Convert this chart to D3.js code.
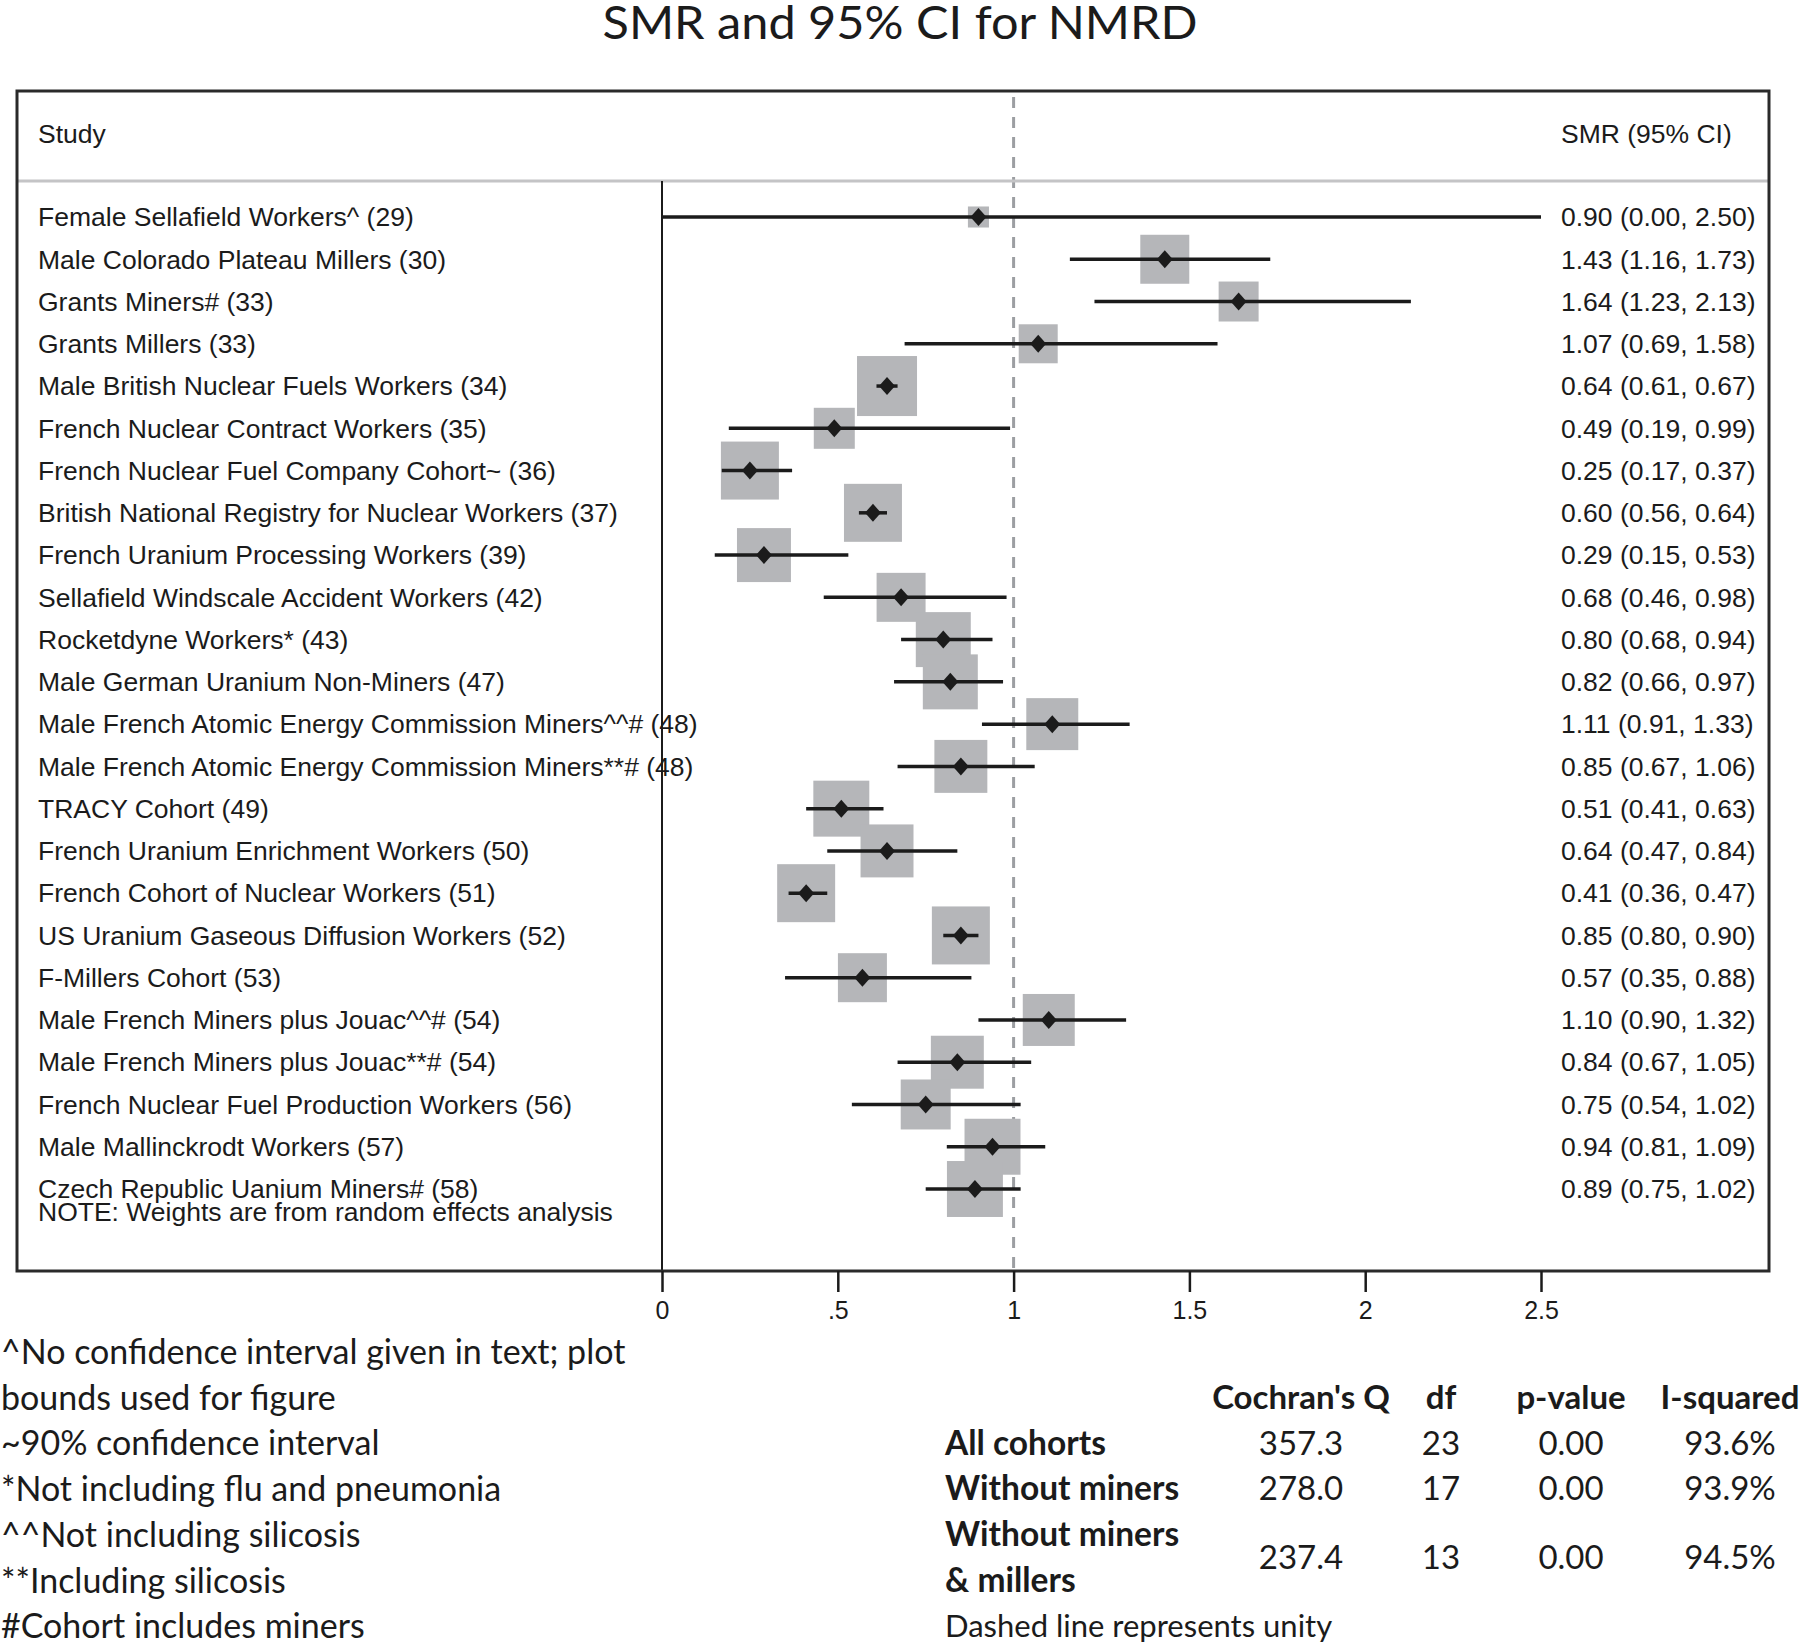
<!DOCTYPE html>
<html>
<head>
<meta charset="utf-8">
<script src="https://cdn.jsdelivr.net/npm/d3@7"></script>
<style>
  html, body { margin: 0; padding: 0; background: #fff; }
  svg { display: block; }
</style>
</head>
<body>
<div id="chart"></div>
<script>
// ---------------- DATA ----------------
const studies = [
  "Female Sellafield Workers^ (29)",
  "Male Colorado Plateau Millers (30)",
  "Grants Miners# (33)",
  "Grants Millers (33)",
  "Male British Nuclear Fuels Workers (34)",
  "French Nuclear Contract Workers (35)",
  "French Nuclear Fuel Company Cohort~ (36)",
  "British National Registry for Nuclear Workers (37)",
  "French Uranium Processing Workers (39)",
  "Sellafield Windscale Accident Workers (42)",
  "Rocketdyne Workers* (43)",
  "Male German Uranium Non-Miners (47)",
  "Male French Atomic Energy Commission Miners^^# (48)",
  "Male French Atomic Energy Commission Miners**# (48)",
  "TRACY Cohort (49)",
  "French Uranium Enrichment Workers (50)",
  "French Cohort of Nuclear Workers (51)",
  "US Uranium Gaseous Diffusion Workers (52)",
  "F-Millers Cohort (53)",
  "Male French Miners plus Jouac^^# (54)",
  "Male French Miners plus Jouac**# (54)",
  "French Nuclear Fuel Production Workers (56)",
  "Male Mallinckrodt Workers (57)",
  "Czech Republic Uanium Miners# (58)"
];
const smr    = [0.90, 1.43, 1.64, 1.07, 0.64, 0.49, 0.25, 0.60, 0.29, 0.68, 0.80, 0.82, 1.11, 0.85, 0.51, 0.64, 0.41, 0.85, 0.57, 1.10, 0.84, 0.75, 0.94, 0.89];
const ciLow  = [0.00, 1.16, 1.23, 0.69, 0.61, 0.19, 0.17, 0.56, 0.15, 0.46, 0.68, 0.66, 0.91, 0.67, 0.41, 0.47, 0.36, 0.80, 0.35, 0.90, 0.67, 0.54, 0.81, 0.75];
const ciHigh = [2.50, 1.73, 2.13, 1.58, 0.67, 0.99, 0.37, 0.64, 0.53, 0.98, 0.94, 0.97, 1.33, 1.06, 0.63, 0.84, 0.47, 0.90, 0.88, 1.32, 1.05, 1.02, 1.09, 1.02];
// random-effects weights (%)
const weights = [0.69, 3.74, 2.49, 2.37, 5.61, 2.62, 5.24, 5.24, 4.54, 3.74, 4.71, 4.71, 4.21, 4.37, 4.88, 4.37, 5.24, 5.24, 3.74, 4.21, 4.37, 3.89, 4.88, 4.88];

const tickValues = [0, 0.5, 1, 1.5, 2, 2.5];
const tickLabels = ["0", ".5", "1", "1.5", "2", "2.5"];

const footnotes = [
  "^No confidence interval given in text; plot",
  "bounds used for figure",
  "~90% confidence interval",
  "*Not including flu and pneumonia",
  "^^Not including silicosis",
  "**Including silicosis",
  "#Cohort includes miners"
];

const statHeaders = ["Cochran's Q", "df", "p-value", "I-squared"];
const statGroups  = [["All cohorts"], ["Without miners"], ["Without miners", "& millers"]];
const cochranQ    = ["357.3", "278.0", "237.4"];
const dfValues    = ["23", "17", "13"];
const pValues     = ["0.00", "0.00", "0.00"];
const iSquared    = ["93.6%", "93.9%", "94.5%"];

// ---------------- LAYOUT ----------------
const W = 1800, H = 1646;
const svg = d3.select("#chart").append("svg").attr("width", W).attr("height", H);

const box = { left: 17, right: 1769, top: 91, bottom: 1271, headerLine: 181 };
const x = d3.scaleLinear().domain([0, 2.5]).range([662, 1541]);
const y = d3.scaleLinear().domain([0, studies.length - 1]).range([217, 1189]);
const size = d3.scaleSqrt().domain([0, 5.61]).range([0, 60]);

const helv = "'Liberation Sans', Arial, Helvetica, sans-serif";
const cal  = "Lato, 'Open Sans', sans-serif";
const ink = "#1b1b1b";
const rowFont = 26.5;

// Title
svg.append("text")
  .attr("x", 900).attr("y", 39)
  .attr("text-anchor", "middle")
  .attr("font-family", cal).attr("font-size", 46)
  .attr("textLength", 595).attr("lengthAdjust", "spacingAndGlyphs")
  .attr("fill", ink)
  .text("SMR and 95% CI for NMRD");

// Dashed line at unity (drawn beneath boxes)
svg.append("line")
  .attr("x1", x(1)).attr("x2", x(1))
  .attr("y1", box.top + 6).attr("y2", box.bottom)
  .attr("stroke", "#9c9ea2").attr("stroke-width", 3)
  .attr("stroke-dasharray", "11 9");

// Header separator
svg.append("line")
  .attr("x1", box.left).attr("x2", box.right)
  .attr("y1", box.headerLine).attr("y2", box.headerLine)
  .attr("stroke", "#c4c4c6").attr("stroke-width", 3);

// Null line at zero
svg.append("line")
  .attr("x1", x(0)).attr("x2", x(0))
  .attr("y1", box.headerLine).attr("y2", box.bottom)
  .attr("stroke", ink).attr("stroke-width", 2);

// Header texts
svg.append("text").attr("x", 38).attr("y", 143)
  .attr("font-family", helv).attr("font-size", rowFont).attr("fill", ink).text("Study");
svg.append("text").attr("x", 1561).attr("y", 143)
  .attr("font-family", helv).attr("font-size", rowFont).attr("fill", ink).text("SMR (95% CI)");

const rows = studies.map((s, i) => ({ s, i, m: smr[i], lo: ciLow[i], hi: ciHigh[i], w: weights[i] }));

// Weight boxes
svg.append("g").selectAll("rect").data(rows).join("rect")
  .attr("x", d => x(d.m) - size(d.w) / 2)
  .attr("y", d => y(d.i) - size(d.w) / 2)
  .attr("width", d => size(d.w))
  .attr("height", d => size(d.w))
  .attr("fill", "#b5b6b9");

// CI lines
svg.append("g").selectAll("line").data(rows).join("line")
  .attr("x1", d => x(d.lo)).attr("x2", d => x(d.hi))
  .attr("y1", d => y(d.i)).attr("y2", d => y(d.i))
  .attr("stroke", ink).attr("stroke-width", 3.5);

// Diamonds
svg.append("g").selectAll("path").data(rows).join("path")
  .attr("d", d => {
    const cx = x(d.m), cy = y(d.i), hw = 8, hh = 9;
    return `M${cx - hw},${cy}L${cx},${cy - hh}L${cx + hw},${cy}L${cx},${cy + hh}Z`;
  })
  .attr("fill", ink);

// Study labels
svg.append("g").selectAll("text").data(rows).join("text")
  .attr("x", 38).attr("y", d => y(d.i)).attr("dy", "0.35em")
  .attr("font-family", helv).attr("font-size", rowFont).attr("fill", ink)
  .text(d => d.s);

// Value labels
const f2 = d3.format(".2f");
svg.append("g").selectAll("text").data(rows).join("text")
  .attr("x", 1561).attr("y", d => y(d.i)).attr("dy", "0.35em")
  .attr("font-family", helv).attr("font-size", rowFont).attr("fill", ink)
  .text(d => `${f2(d.m)} (${f2(d.lo)}, ${f2(d.hi)})`);

// Note
svg.append("text").attr("x", 38).attr("y", y(studies.length - 1) + 23).attr("dy", "0.35em")
  .attr("font-family", helv).attr("font-size", rowFont).attr("fill", ink)
  .text("NOTE: Weights are from random effects analysis");

// Outer box
svg.append("rect")
  .attr("x", box.left).attr("y", box.top)
  .attr("width", box.right - box.left).attr("height", box.bottom - box.top)
  .attr("fill", "none").attr("stroke", "#2a2a2a").attr("stroke-width", 3);

// Axis
const axis = d3.axisBottom(x)
  .tickValues(tickValues)
  .tickSize(21)
  .tickPadding(9)
  .tickFormat((d, i) => tickLabels[i]);
const ax = svg.append("g").attr("transform", `translate(0,${box.bottom})`).call(axis);
ax.select(".domain").remove();
ax.selectAll(".tick line").attr("stroke", ink).attr("stroke-width", 2.5);
ax.selectAll(".tick text")
  .attr("font-family", helv).attr("font-size", 25).attr("fill", ink);

// Footnotes
svg.append("g").selectAll("text").data(footnotes).join("text")
  .attr("x", 1)
  .attr("y", (d, i) => 1364 + i * 45.7)
  .attr("font-family", cal).attr("font-size", 34).attr("fill", ink)
  .text(d => d);

// Stats table
const colX = [1301, 1441, 1571, 1730];
const headerY = 1409;
svg.append("g").selectAll("text").data(statHeaders).join("text")
  .attr("x", (d, i) => colX[i]).attr("y", headerY)
  .attr("text-anchor", "middle")
  .attr("font-family", cal).attr("font-size", 33).attr("font-weight", 700).attr("fill", ink)
  .text(d => d);

const rowBaselines = [[1455], [1500], [1546, 1592]];
const valueBaselines = [1455, 1500, 1569];
statGroups.forEach((lines, r) => {
  lines.forEach((t, k) => {
    svg.append("text").attr("x", 945).attr("y", rowBaselines[r][k])
      .attr("font-family", cal).attr("font-size", 33.5).attr("font-weight", 700).attr("fill", ink)
      .text(t);
  });
  [cochranQ[r], dfValues[r], pValues[r], iSquared[r]].forEach((v, c) => {
    svg.append("text").attr("x", colX[c]).attr("y", valueBaselines[r])
      .attr("text-anchor", "middle")
      .attr("font-family", cal).attr("font-size", 33).attr("fill", ink)
      .text(v);
  });
});

svg.append("text").attr("x", 945).attr("y", 1637)
  .attr("font-family", cal).attr("font-size", 31).attr("fill", ink)
  .text("Dashed line represents unity");
</script>
</body>
</html>
